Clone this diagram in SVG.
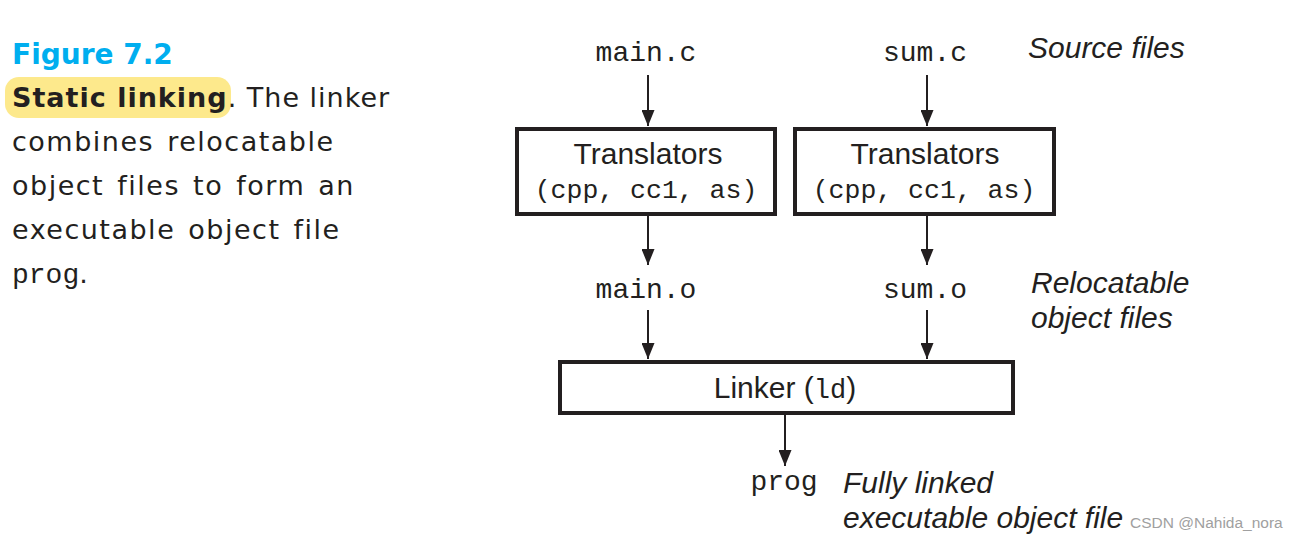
<svg xmlns="http://www.w3.org/2000/svg" width="1300" height="542" viewBox="0 0 1300 542">
<style>
.cap{font-family:"DejaVu Sans",sans-serif;font-size:27px;letter-spacing:1.5px;word-spacing:3px;fill:#231f20}
.cap1{font-family:"DejaVu Sans",sans-serif;font-size:27px;letter-spacing:1px;fill:#231f20}
.mono{font-family:"Liberation Mono",monospace;fill:#231f20}
.sans{font-family:"Liberation Sans",Arial,sans-serif;fill:#231f20}
.it{font-family:"Liberation Sans",Arial,sans-serif;font-style:italic;font-size:30px;fill:#231f20}
.box{fill:#fff;stroke:#231f20;stroke-width:4}
.conn{stroke:#231f20;stroke-width:2;fill:none;marker-end:url(#ah)}
</style>
<defs>
<marker id="ah" viewBox="0 0 16 13" refX="16" refY="6.5" markerWidth="16" markerHeight="13" markerUnits="userSpaceOnUse" orient="auto">
<path d="M0,0 L16,6.5 L0,13 Z" fill="#231f20"/>
</marker>
</defs>
<rect width="1300" height="542" fill="#fff"/>
<g id="caption">
<rect x="5" y="77" width="226" height="41" rx="14" fill="#fde98c"/>
<text x="12" y="64" style="font-family:'DejaVu Sans',sans-serif;font-weight:bold;font-size:28px;fill:#00aeef">Figure 7.2</text>
<text class="cap1" x="12" y="107"><tspan font-weight="bold">Static linking</tspan>. The linker</text>
<text class="cap" x="12" y="151">combines relocatable</text>
<text class="cap" x="12" y="195">object files to form an</text>
<text class="cap" x="12" y="239">executable object file</text>
<text class="mono" x="12" y="283" font-size="28">prog<tspan class="cap1">.</tspan></text>
</g>
<g id="connectors">
<line class="conn" x1="648" y1="75" x2="648" y2="126"/>
<line class="conn" x1="927" y1="75" x2="927" y2="126"/>
<line class="conn" x1="648" y1="216" x2="648" y2="265"/>
<line class="conn" x1="927" y1="216" x2="927" y2="265"/>
<line class="conn" x1="648" y1="310" x2="648" y2="359"/>
<line class="conn" x1="927" y1="310" x2="927" y2="359"/>
<line class="conn" x1="785" y1="415" x2="785" y2="466"/>
</g>
<g id="main_c"><text class="mono" x="646" y="61" font-size="28" text-anchor="middle">main.c</text></g>
<g id="sum_c"><text class="mono" x="925" y="61" font-size="28" text-anchor="middle">sum.c</text></g>
<g id="source_label"><text class="it" x="1028" y="58">Source files</text></g>
<g id="translators1">
<rect class="box" x="517" y="129" width="258" height="85"/>
<text class="sans" x="648" y="164" font-size="30" text-anchor="middle">Translators</text>
<text class="mono" x="646" y="198" font-size="26.5" text-anchor="middle">(cpp, cc1, as)</text>
</g>
<g id="translators2">
<rect class="box" x="795" y="129" width="259" height="85"/>
<text class="sans" x="925" y="164" font-size="30" text-anchor="middle">Translators</text>
<text class="mono" x="924" y="198" font-size="26.5" text-anchor="middle">(cpp, cc1, as)</text>
</g>
<g id="main_o"><text class="mono" x="646" y="298" font-size="28" text-anchor="middle">main.o</text></g>
<g id="sum_o"><text class="mono" x="925" y="298" font-size="28" text-anchor="middle">sum.o</text></g>
<g id="reloc_label">
<text class="it" x="1031" y="293">Relocatable</text>
<text class="it" x="1031" y="328">object files</text>
</g>
<g id="linker">
<rect class="box" x="560" y="362" width="453" height="51"/>
<text class="sans" x="785" y="398" font-size="30" text-anchor="middle">Linker (<tspan class="mono" font-size="27">ld</tspan>)</text>
</g>
<g id="prog"><text class="mono" x="784" y="490" font-size="28" text-anchor="middle">prog</text></g>
<g id="exe_label">
<text class="it" x="843" y="493">Fully linked</text>
<text class="it" x="843" y="528">executable object file</text>
</g>
<text x="1130" y="528" style="font-family:'Liberation Sans',Arial,sans-serif;font-size:15.5px;fill:#a0a0a0">CSDN @Nahida_nora</text>
</svg>
